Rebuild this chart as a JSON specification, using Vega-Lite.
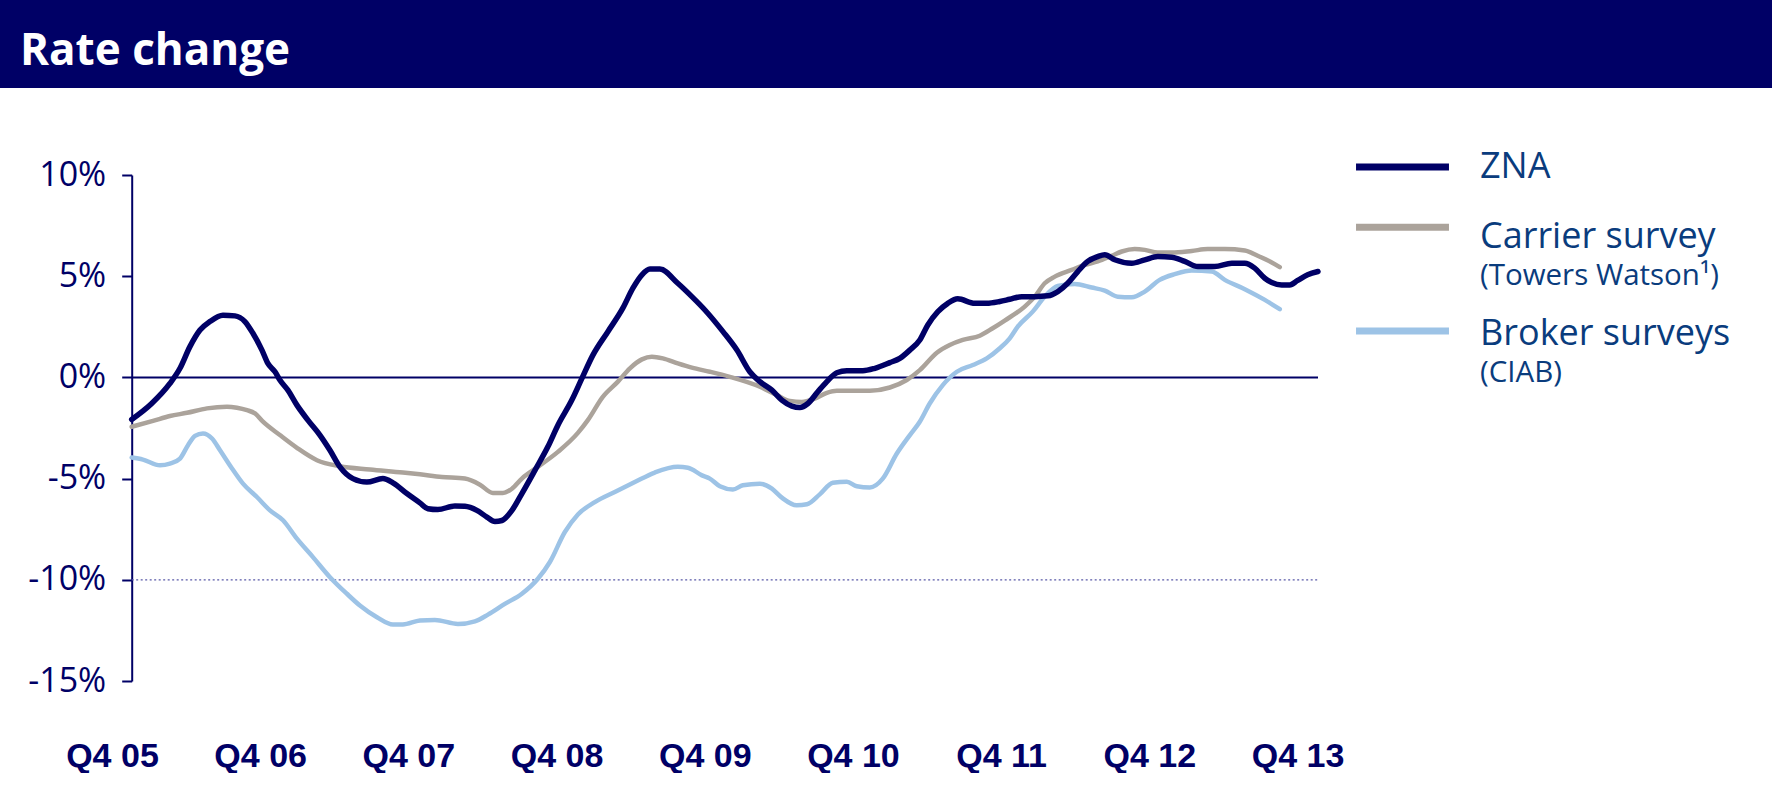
{
  "$schema": "https://vega.github.io/schema/vega-lite/v6.json",
  "padding": 0,
  "background": "white",
  "columns": 1,
  "align": "none",
  "spacing": 70,
  "config": {"view": {"stroke": null}, "axis": {"grid": false, "title": null}},
  "datasets": {
    "rates": [
      {"s":"ZNA","t":0.133,"v":-2.08},{"s":"ZNA","t":0.268,"v":-1.29},{"s":"ZNA","t":0.391,"v":-0.30},{"s":"ZNA","t":0.459,"v":0.45},{"s":"ZNA","t":0.526,"v":1.52},{"s":"ZNA","t":0.594,"v":2.34},{"s":"ZNA","t":0.661,"v":2.76},{"s":"ZNA","t":0.749,"v":3.07},{"s":"ZNA","t":0.830,"v":3.04},{"s":"ZNA","t":0.897,"v":2.76},{"s":"ZNA","t":0.951,"v":2.18},{"s":"ZNA","t":1.012,"v":1.35},{"s":"ZNA","t":1.052,"v":0.69},{"s":"ZNA","t":1.100,"v":0.28},{"s":"ZNA","t":1.133,"v":-0.13},{"s":"ZNA","t":1.187,"v":-0.63},{"s":"ZNA","t":1.248,"v":-1.37},{"s":"ZNA","t":1.322,"v":-2.11},{"s":"ZNA","t":1.403,"v":-2.85},{"s":"ZNA","t":1.471,"v":-3.60},{"s":"ZNA","t":1.538,"v":-4.42},{"s":"ZNA","t":1.626,"v":-5.00},{"s":"ZNA","t":1.720,"v":-5.17},{"s":"ZNA","t":1.828,"v":-5.00},{"s":"ZNA","t":1.896,"v":-5.21},{"s":"ZNA","t":1.990,"v":-5.74},{"s":"ZNA","t":2.078,"v":-6.20},{"s":"ZNA","t":2.132,"v":-6.49},{"s":"ZNA","t":2.199,"v":-6.53},{"s":"ZNA","t":2.314,"v":-6.35},{"s":"ZNA","t":2.381,"v":-6.37},{"s":"ZNA","t":2.462,"v":-6.57},{"s":"ZNA","t":2.530,"v":-6.90},{"s":"ZNA","t":2.584,"v":-7.12},{"s":"ZNA","t":2.631,"v":-7.07},{"s":"ZNA","t":2.699,"v":-6.57},{"s":"ZNA","t":2.766,"v":-5.74},{"s":"ZNA","t":2.854,"v":-4.59},{"s":"ZNA","t":2.941,"v":-3.43},{"s":"ZNA","t":3.009,"v":-2.36},{"s":"ZNA","t":3.103,"v":-1.12},{"s":"ZNA","t":3.171,"v":-0.05},{"s":"ZNA","t":3.245,"v":1.10},{"s":"ZNA","t":3.346,"v":2.26},{"s":"ZNA","t":3.447,"v":3.42},{"s":"ZNA","t":3.515,"v":4.41},{"s":"ZNA","t":3.576,"v":5.07},{"s":"ZNA","t":3.630,"v":5.35},{"s":"ZNA","t":3.697,"v":5.35},{"s":"ZNA","t":3.818,"v":4.65},{"s":"ZNA","t":3.913,"v":3.99},{"s":"ZNA","t":4.001,"v":3.33},{"s":"ZNA","t":4.123,"v":2.26},{"s":"ZNA","t":4.217,"v":1.35},{"s":"ZNA","t":4.304,"v":0.28},{"s":"ZNA","t":4.372,"v":-0.21},{"s":"ZNA","t":4.453,"v":-0.63},{"s":"ZNA","t":4.520,"v":-1.12},{"s":"ZNA","t":4.588,"v":-1.42},{"s":"ZNA","t":4.642,"v":-1.49},{"s":"ZNA","t":4.696,"v":-1.29},{"s":"ZNA","t":4.763,"v":-0.71},{"s":"ZNA","t":4.824,"v":-0.21},{"s":"ZNA","t":4.891,"v":0.23},{"s":"ZNA","t":4.959,"v":0.33},{"s":"ZNA","t":5.067,"v":0.33},{"s":"ZNA","t":5.148,"v":0.45},{"s":"ZNA","t":5.249,"v":0.73},{"s":"ZNA","t":5.316,"v":0.94},{"s":"ZNA","t":5.384,"v":1.35},{"s":"ZNA","t":5.451,"v":1.85},{"s":"ZNA","t":5.505,"v":2.59},{"s":"ZNA","t":5.573,"v":3.25},{"s":"ZNA","t":5.640,"v":3.66},{"s":"ZNA","t":5.707,"v":3.88},{"s":"ZNA","t":5.822,"v":3.66},{"s":"ZNA","t":5.903,"v":3.66},{"s":"ZNA","t":5.991,"v":3.75},{"s":"ZNA","t":6.058,"v":3.86},{"s":"ZNA","t":6.139,"v":3.99},{"s":"ZNA","t":6.227,"v":3.99},{"s":"ZNA","t":6.315,"v":4.03},{"s":"ZNA","t":6.382,"v":4.24},{"s":"ZNA","t":6.449,"v":4.65},{"s":"ZNA","t":6.517,"v":5.23},{"s":"ZNA","t":6.584,"v":5.73},{"s":"ZNA","t":6.652,"v":5.97},{"s":"ZNA","t":6.699,"v":6.06},{"s":"ZNA","t":6.767,"v":5.81},{"s":"ZNA","t":6.881,"v":5.64},{"s":"ZNA","t":6.969,"v":5.81},{"s":"ZNA","t":7.057,"v":5.97},{"s":"ZNA","t":7.151,"v":5.94},{"s":"ZNA","t":7.239,"v":5.73},{"s":"ZNA","t":7.327,"v":5.48},{"s":"ZNA","t":7.441,"v":5.48},{"s":"ZNA","t":7.556,"v":5.64},{"s":"ZNA","t":7.644,"v":5.64},{"s":"ZNA","t":7.711,"v":5.40},{"s":"ZNA","t":7.779,"v":4.90},{"s":"ZNA","t":7.826,"v":4.69},{"s":"ZNA","t":7.893,"v":4.57},{"s":"ZNA","t":7.947,"v":4.57},{"s":"ZNA","t":8.001,"v":4.79},{"s":"ZNA","t":8.068,"v":5.07},{"s":"ZNA","t":8.138,"v":5.23},
      {"s":"Carrier survey","t":0.133,"v":-2.44},{"s":"Carrier survey","t":0.277,"v":-2.15},{"s":"Carrier survey","t":0.391,"v":-1.91},{"s":"Carrier survey","t":0.506,"v":-1.75},{"s":"Carrier survey","t":0.641,"v":-1.53},{"s":"Carrier survey","t":0.776,"v":-1.45},{"s":"Carrier survey","t":0.843,"v":-1.50},{"s":"Carrier survey","t":0.911,"v":-1.62},{"s":"Carrier survey","t":0.965,"v":-1.78},{"s":"Carrier survey","t":1.019,"v":-2.19},{"s":"Carrier survey","t":1.133,"v":-2.85},{"s":"Carrier survey","t":1.248,"v":-3.48},{"s":"Carrier survey","t":1.383,"v":-4.09},{"s":"Carrier survey","t":1.538,"v":-4.39},{"s":"Carrier survey","t":1.741,"v":-4.55},{"s":"Carrier survey","t":1.963,"v":-4.70},{"s":"Carrier survey","t":2.078,"v":-4.79},{"s":"Carrier survey","t":2.226,"v":-4.92},{"s":"Carrier survey","t":2.381,"v":-5.00},{"s":"Carrier survey","t":2.483,"v":-5.30},{"s":"Carrier survey","t":2.570,"v":-5.71},{"s":"Carrier survey","t":2.638,"v":-5.71},{"s":"Carrier survey","t":2.699,"v":-5.50},{"s":"Carrier survey","t":2.766,"v":-5.00},{"s":"Carrier survey","t":2.874,"v":-4.42},{"s":"Carrier survey","t":3.009,"v":-3.68},{"s":"Carrier survey","t":3.144,"v":-2.74},{"s":"Carrier survey","t":3.211,"v":-2.11},{"s":"Carrier survey","t":3.312,"v":-0.96},{"s":"Carrier survey","t":3.414,"v":-0.21},{"s":"Carrier survey","t":3.495,"v":0.45},{"s":"Carrier survey","t":3.576,"v":0.89},{"s":"Carrier survey","t":3.643,"v":1.02},{"s":"Carrier survey","t":3.717,"v":0.94},{"s":"Carrier survey","t":3.818,"v":0.69},{"s":"Carrier survey","t":3.913,"v":0.48},{"s":"Carrier survey","t":4.034,"v":0.28},{"s":"Carrier survey","t":4.169,"v":0.03},{"s":"Carrier survey","t":4.372,"v":-0.46},{"s":"Carrier survey","t":4.486,"v":-0.87},{"s":"Carrier survey","t":4.574,"v":-1.16},{"s":"Carrier survey","t":4.655,"v":-1.21},{"s":"Carrier survey","t":4.729,"v":-1.09},{"s":"Carrier survey","t":4.824,"v":-0.76},{"s":"Carrier survey","t":4.891,"v":-0.66},{"s":"Carrier survey","t":5.114,"v":-0.66},{"s":"Carrier survey","t":5.249,"v":-0.50},{"s":"Carrier survey","t":5.363,"v":-0.13},{"s":"Carrier survey","t":5.451,"v":0.36},{"s":"Carrier survey","t":5.566,"v":1.22},{"s":"Carrier survey","t":5.653,"v":1.60},{"s":"Carrier survey","t":5.741,"v":1.85},{"s":"Carrier survey","t":5.856,"v":2.06},{"s":"Carrier survey","t":5.943,"v":2.43},{"s":"Carrier survey","t":6.024,"v":2.81},{"s":"Carrier survey","t":6.159,"v":3.50},{"s":"Carrier survey","t":6.227,"v":3.99},{"s":"Carrier survey","t":6.294,"v":4.65},{"s":"Carrier survey","t":6.362,"v":4.98},{"s":"Carrier survey","t":6.476,"v":5.31},{"s":"Carrier survey","t":6.564,"v":5.56},{"s":"Carrier survey","t":6.652,"v":5.73},{"s":"Carrier survey","t":6.746,"v":6.01},{"s":"Carrier survey","t":6.814,"v":6.22},{"s":"Carrier survey","t":6.901,"v":6.34},{"s":"Carrier survey","t":6.969,"v":6.30},{"s":"Carrier survey","t":7.057,"v":6.17},{"s":"Carrier survey","t":7.151,"v":6.17},{"s":"Carrier survey","t":7.286,"v":6.25},{"s":"Carrier survey","t":7.394,"v":6.34},{"s":"Carrier survey","t":7.509,"v":6.34},{"s":"Carrier survey","t":7.644,"v":6.27},{"s":"Carrier survey","t":7.731,"v":6.01},{"s":"Carrier survey","t":7.826,"v":5.68},{"s":"Carrier survey","t":7.880,"v":5.45},
      {"s":"Broker surveys","t":0.133,"v":-3.96},{"s":"Broker surveys","t":0.209,"v":-4.06},{"s":"Broker surveys","t":0.324,"v":-4.34},{"s":"Broker surveys","t":0.391,"v":-4.26},{"s":"Broker surveys","t":0.459,"v":-4.01},{"s":"Broker surveys","t":0.513,"v":-3.35},{"s":"Broker surveys","t":0.560,"v":-2.89},{"s":"Broker surveys","t":0.614,"v":-2.77},{"s":"Broker surveys","t":0.675,"v":-3.02},{"s":"Broker surveys","t":0.729,"v":-3.60},{"s":"Broker surveys","t":0.810,"v":-4.50},{"s":"Broker surveys","t":0.884,"v":-5.25},{"s":"Broker surveys","t":0.978,"v":-5.91},{"s":"Broker surveys","t":1.066,"v":-6.57},{"s":"Broker surveys","t":1.154,"v":-7.06},{"s":"Broker surveys","t":1.248,"v":-7.97},{"s":"Broker surveys","t":1.356,"v":-8.88},{"s":"Broker surveys","t":1.471,"v":-9.87},{"s":"Broker surveys","t":1.585,"v":-10.69},{"s":"Broker surveys","t":1.673,"v":-11.27},{"s":"Broker surveys","t":1.788,"v":-11.85},{"s":"Broker surveys","t":1.896,"v":-12.21},{"s":"Broker surveys","t":1.963,"v":-12.21},{"s":"Broker surveys","t":2.078,"v":-12.01},{"s":"Broker surveys","t":2.179,"v":-11.98},{"s":"Broker surveys","t":2.334,"v":-12.18},{"s":"Broker surveys","t":2.449,"v":-12.05},{"s":"Broker surveys","t":2.537,"v":-11.72},{"s":"Broker surveys","t":2.651,"v":-11.19},{"s":"Broker surveys","t":2.766,"v":-10.69},{"s":"Broker surveys","t":2.874,"v":-9.95},{"s":"Broker surveys","t":2.955,"v":-9.12},{"s":"Broker surveys","t":3.056,"v":-7.64},{"s":"Broker surveys","t":3.144,"v":-6.77},{"s":"Broker surveys","t":3.258,"v":-6.16},{"s":"Broker surveys","t":3.393,"v":-5.66},{"s":"Broker surveys","t":3.528,"v":-5.17},{"s":"Broker surveys","t":3.663,"v":-4.70},{"s":"Broker surveys","t":3.818,"v":-4.42},{"s":"Broker surveys","t":3.886,"v":-4.46},{"s":"Broker surveys","t":3.981,"v":-4.84},{"s":"Broker surveys","t":4.034,"v":-5.00},{"s":"Broker surveys","t":4.102,"v":-5.38},{"s":"Broker surveys","t":4.190,"v":-5.54},{"s":"Broker surveys","t":4.257,"v":-5.33},{"s":"Broker surveys","t":4.372,"v":-5.25},{"s":"Broker surveys","t":4.453,"v":-5.50},{"s":"Broker surveys","t":4.520,"v":-5.94},{"s":"Broker surveys","t":4.621,"v":-6.32},{"s":"Broker surveys","t":4.689,"v":-6.27},{"s":"Broker surveys","t":4.776,"v":-5.78},{"s":"Broker surveys","t":4.864,"v":-5.21},{"s":"Broker surveys","t":4.959,"v":-5.16},{"s":"Broker surveys","t":5.026,"v":-5.38},{"s":"Broker surveys","t":5.114,"v":-5.44},{"s":"Broker surveys","t":5.201,"v":-5.00},{"s":"Broker surveys","t":5.296,"v":-3.76},{"s":"Broker surveys","t":5.384,"v":-2.85},{"s":"Broker surveys","t":5.451,"v":-2.19},{"s":"Broker surveys","t":5.518,"v":-1.29},{"s":"Broker surveys","t":5.606,"v":-0.38},{"s":"Broker surveys","t":5.701,"v":0.28},{"s":"Broker surveys","t":5.809,"v":0.61},{"s":"Broker surveys","t":5.903,"v":0.94},{"s":"Broker surveys","t":5.991,"v":1.44},{"s":"Broker surveys","t":6.058,"v":1.93},{"s":"Broker surveys","t":6.112,"v":2.51},{"s":"Broker surveys","t":6.213,"v":3.25},{"s":"Broker surveys","t":6.294,"v":3.99},{"s":"Broker surveys","t":6.382,"v":4.52},{"s":"Broker surveys","t":6.497,"v":4.62},{"s":"Broker surveys","t":6.611,"v":4.44},{"s":"Broker surveys","t":6.699,"v":4.29},{"s":"Broker surveys","t":6.787,"v":3.99},{"s":"Broker surveys","t":6.881,"v":3.96},{"s":"Broker surveys","t":6.969,"v":4.24},{"s":"Broker surveys","t":7.070,"v":4.82},{"s":"Broker surveys","t":7.171,"v":5.10},{"s":"Broker surveys","t":7.286,"v":5.28},{"s":"Broker surveys","t":7.421,"v":5.23},{"s":"Broker surveys","t":7.509,"v":4.82},{"s":"Broker surveys","t":7.644,"v":4.36},{"s":"Broker surveys","t":7.779,"v":3.83},{"s":"Broker surveys","t":7.880,"v":3.37}
    ]
  },
  "concat": [
    {
      "width": 1772,
      "height": 88,
      "view": {"fill": "#000066", "stroke": null},
      "data": {"values": [{"k": "bar"}]},
      "mark": {"type": "rect", "color": "#000066"},
      "title": {"text": "Rate change", "anchor": "start", "orient": "top", "frame": "group", "offset": -109, "dx": 20, "color": "#FFFFFF", "font": "Open Sans", "fontSize": 44, "fontWeight": "bold", "baseline": "alphabetic"}
    },
    {
      "width": 1318,
      "height": 506,
      "data": {"name": "rates"},
      "layer": [
        {
          "data": {"values": [{"k": 1}]},
          "mark": {"type": "rule", "color": "#5A5AA8", "strokeWidth": 1.2, "strokeDash": [2, 2.5]},
          "encoding": {
            "x": {"datum": 0.133, "type": "quantitative"},
            "x2": {"datum": 8.138},
            "y": {"datum": -10, "type": "quantitative"}
          }
        },
        {
          "data": {"values": [{"k": 1}]},
          "mark": {"type": "rule", "color": "#000066", "strokeWidth": 2},
          "encoding": {
            "x": {"datum": 0.133, "type": "quantitative"},
            "x2": {"datum": 8.138},
            "y": {"datum": 0, "type": "quantitative"}
          }
        },
        {
          "transform": [{"filter": "datum.s === 'Broker surveys'"}],
          "mark": {"type": "line", "strokeWidth": 4.5, "interpolate": "monotone", "strokeCap": "round", "strokeJoin": "round"},
          "encoding": {
            "x": {"field": "t", "type": "quantitative", "scale": {"domain": [-0.7556, 8.138], "nice": false, "zero": false},
              "axis": {"values": [0, 1, 2, 3, 4, 5, 6, 7, 8], "labelExpr": "'Q4 ' + (datum.value + 5 < 10 ? '0' : '') + (datum.value + 5)", "domain": false, "ticks": false, "grid": false, "title": null, "labelFlush": false, "labelOverlap": false, "labelPadding": 58, "labelFont": "Liberation Sans", "labelFontSize": 34, "labelFontWeight": "bold", "labelColor": "#000066"}},
            "y": {"field": "v", "type": "quantitative", "scale": {"domain": [-15, 10], "nice": false, "zero": false},
              "axis": {"values": [-15, -10, -5, 0, 5, 10], "labelExpr": "datum.value + '%'", "offset": -131.7, "domain": true, "domainColor": "#000066", "domainWidth": 2, "ticks": true, "tickSize": 10, "tickWidth": 2, "tickColor": "#000066", "grid": false, "title": null, "labelPadding": 16, "labelFont": "Open Sans", "labelFontSize": 34, "labelColor": "#000066"}},
            "color": {"field": "s", "type": "nominal"}
          }
        },
        {
          "transform": [{"filter": "datum.s === 'Carrier survey'"}],
          "mark": {"type": "line", "strokeWidth": 4.5, "interpolate": "monotone", "strokeCap": "round", "strokeJoin": "round"},
          "encoding": {
            "x": {"field": "t", "type": "quantitative"},
            "y": {"field": "v", "type": "quantitative"},
            "color": {"field": "s", "type": "nominal"}
          }
        },
        {
          "transform": [{"filter": "datum.s === 'ZNA'"}],
          "mark": {"type": "line", "strokeWidth": 5.5, "interpolate": "monotone", "strokeCap": "round", "strokeJoin": "round"},
          "encoding": {
            "x": {"field": "t", "type": "quantitative"},
            "y": {"field": "v", "type": "quantitative"},
            "color": {"field": "s", "type": "nominal",
              "scale": {"domain": ["ZNA", "Carrier survey", "(Towers Watson¹)", "Broker surveys", "(CIAB)"], "range": ["#000066", "#ABA39B", "#FFFFFF", "#9DC3E6", "#FFFFFF"]},
              "legend": {
                "orient": "none", "legendX": 1384.5, "legendY": 149, "direction": "vertical", "title": null, "padding": 0,
                "symbolType": "M-4,0H4", "symbolSize": 540, "symbolStrokeWidth": 7, "symbolFillColor": "transparent",
                "labelFont": "Open Sans", "labelFontSize": 36, "labelColor": "#0A3C7D", "labelOffset": 59.5, "labelLimit": 600, "rowPadding": 2.3,
                "encoding": {
                  "labels": {
                    "fontSize": {"value": {"expr": "datum.value === '(Towers Watson¹)' || datum.value === '(CIAB)' ? 29.5 : 36"}},
                    "dy": {"value": {"expr": "datum.value === 'Carrier survey' ? 9.7 : datum.value === 'Broker surveys' ? 3.4 : 0"}}
                  },
                  "symbols": {
                    "shape": {"value": {"expr": "datum.value === 'Carrier survey' ? 'M-4,0H4M0,-2.205' : datum.value === 'Broker surveys' ? 'M-4,0H4M0,-1.98' : 'M-4,0H4'"}}
                  }
                }
              }}
          }
        }
      ]
    }
  ]
}
